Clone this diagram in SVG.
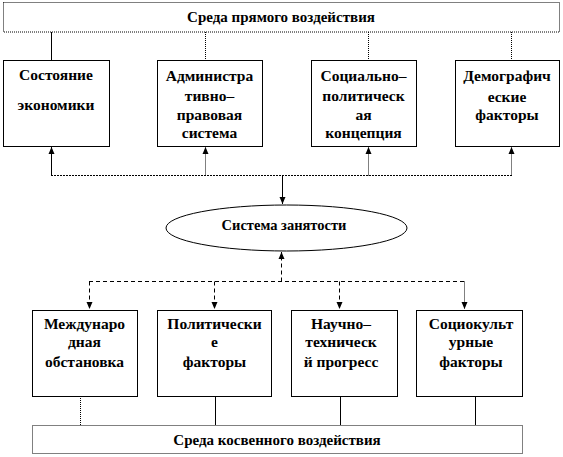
<svg xmlns="http://www.w3.org/2000/svg" width="563" height="457" viewBox="0 0 563 457">
<style>
.box{fill:#fff;stroke:#000;stroke-width:1}
.banner{fill:#fff;stroke:#000;stroke-width:1;stroke-dasharray:1 1}
.t{font-family:"Liberation Serif","DejaVu Serif",serif;font-weight:bold;font-size:15.5px;text-anchor:middle;fill:#000}
.tb{font-size:15px}
.te{font-size:14.5px}
.ln{fill:none;stroke:#000;stroke-width:1}
.dot{fill:none;stroke:#000;stroke-width:1;stroke-dasharray:1 1}
.dash{fill:none;stroke:#000;stroke-width:1;stroke-dasharray:4 3}
</style>
<defs>
<marker id="au" viewBox="0 0 8 8" refX="4" refY="0" markerWidth="8" markerHeight="8" orient="0" markerUnits="userSpaceOnUse">
<path d="M4,0 L7,7 L1,7 Z" fill="#000"/>
</marker>
<marker id="ad" viewBox="0 0 8 8" refX="4" refY="8" markerWidth="8" markerHeight="8" orient="0" markerUnits="userSpaceOnUse">
<path d="M1,1 L7,1 L4,8 Z" fill="#000"/>
</marker>
</defs>

<g id="connectors">
<line class="ln" x1="51.5" y1="32" x2="51.5" y2="60"/>
<line class="dot" x1="205.5" y1="32" x2="205.5" y2="60"/>
<line class="dot" x1="368.5" y1="32" x2="368.5" y2="60"/>
<line class="dot" x1="511.5" y1="32" x2="511.5" y2="60"/>
<line class="dot" x1="51" y1="175.5" x2="512" y2="175.5" style="stroke-dasharray:2 1"/>
<path class="ln" d="M51.5,175.5 V147" marker-end="url(#au)"/>
<path class="dot" d="M205.5,175.5 V147" marker-end="url(#au)"/>
<path class="dot" d="M368.5,175.5 V147" marker-end="url(#au)"/>
<path class="dot" d="M511.5,175.5 V147" marker-end="url(#au)"/>
<path class="ln" d="M282.5,175.5 V204" marker-end="url(#ad)"/>
<path class="dash" d="M281.5,281.5 V252" marker-end="url(#au)"/>
<line class="dash" x1="89" y1="281.5" x2="465" y2="281.5"/>
<path class="dash" d="M89.5,281.5 V309" marker-end="url(#ad)"/>
<path class="dash" d="M214.5,281.5 V309" marker-end="url(#ad)"/>
<path class="dash" d="M339.5,281.5 V309" marker-end="url(#ad)"/>
<path class="dot" d="M464.5,281.5 V309" marker-end="url(#ad)"/>
<line class="dot" x1="80.5" y1="396" x2="80.5" y2="425"/>
<line class="ln" x1="215.5" y1="396" x2="215.5" y2="425"/>
<line class="ln" x1="340.5" y1="396" x2="340.5" y2="425"/>
<line class="ln" x1="475.5" y1="396" x2="475.5" y2="425"/>
</g>

<g id="top-banner">
<rect class="banner" x="3.5" y="2.5" width="556" height="29.5"/>
<text class="t tb" x="281" y="22">Среда прямого воздействия</text>
</g>

<g id="box-economy">
<rect class="box" x="3.5" y="60.5" width="106" height="86"/>
<text class="t" x="56" y="80">Состояние</text>
<text class="t" x="56" y="110">экономики</text>
</g>
<g id="box-admin">
<rect class="box" x="157.5" y="60.5" width="105" height="86"/>
<text class="t" x="209.5" y="81">Администра</text>
<text class="t" x="209.5" y="101">тивно–</text>
<text class="t" x="209.5" y="120">правовая</text>
<text class="t" x="209.5" y="138">система</text>
</g>
<g id="box-social">
<rect class="box" x="311.5" y="60.5" width="105" height="86"/>
<text class="t" x="363.5" y="81">Социально–</text>
<text class="t" x="363.5" y="101">политическ</text>
<text class="t" x="363.5" y="120">ая</text>
<text class="t" x="363.5" y="138">концепция</text>
</g>
<g id="box-demo">
<rect class="box" x="455.5" y="60.5" width="104" height="86"/>
<text class="t" x="507" y="81">Демографич</text>
<text class="t" x="507" y="102">еские</text>
<text class="t" x="507" y="120">факторы</text>
</g>

<g id="employment">
<ellipse class="box" cx="286.5" cy="228" rx="120.5" ry="23"/>
<text class="t te" x="284" y="230">Система занятости</text>
</g>

<g id="box-intl">
<rect class="box" x="32.5" y="310.5" width="105" height="86"/>
<text class="t" x="84.5" y="329">Междунаро</text>
<text class="t" x="84.5" y="347">дная</text>
<text class="t" x="84.5" y="367">обстановка</text>
</g>
<g id="box-polit">
<rect class="box" x="157.5" y="310.5" width="114" height="86"/>
<text class="t" x="214.5" y="329">Политически</text>
<text class="t" x="214.5" y="347">е</text>
<text class="t" x="214.5" y="367">факторы</text>
</g>
<g id="box-sci">
<rect class="box" x="291.5" y="310.5" width="106" height="86"/>
<text class="t" x="341" y="329">Научно–</text>
<text class="t" x="341" y="347">техническ</text>
<text class="t" x="341" y="367">й прогресс</text>
</g>
<g id="box-culture">
<rect class="box" x="416.5" y="310.5" width="106" height="86"/>
<text class="t" x="471" y="329">Социокульт</text>
<text class="t" x="471" y="347">урные</text>
<text class="t" x="471" y="367">факторы</text>
</g>

<g id="bottom-banner">
<rect class="banner" x="32.5" y="425.5" width="490" height="28"/>
<text class="t tb" x="277" y="445">Среда косвенного воздействия</text>
</g>
</svg>
